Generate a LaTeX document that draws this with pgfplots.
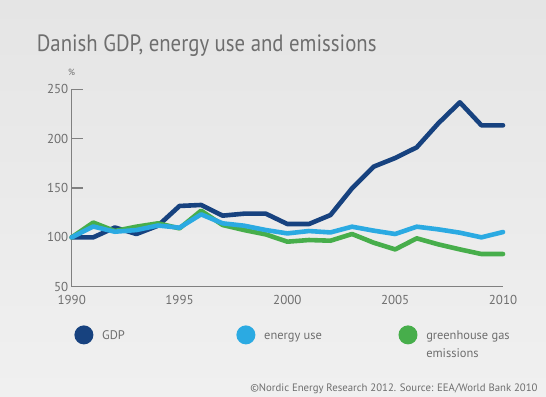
\documentclass[border=0pt]{standalone}
\usepackage{pgfplots}
\pgfplotsset{compat=1.18}
\usepackage{fontspec}
\setmainfont{PT Sans}
\newfontfamily\titlefont[FakeStretch=0.88]{PT Sans}
\definecolor{gdp}{HTML}{17427F}
\definecolor{energy}{HTML}{2BAAE2}
\definecolor{ghg}{HTML}{47AE4B}
\definecolor{txt}{HTML}{6E6E6E}
\definecolor{axc}{HTML}{808080}
\definecolor{bgtop}{HTML}{E5E5E5}
\definecolor{bgbot}{HTML}{F0F0F0}
\pgfplotstableread{
year gdp energy ghg
1990 100 100 100
1991 100 111 115
1992 110 105.7 106.4
1993 103.4 107.4 110.8
1994 111.8 112 114.2
1995 131.8 109.8 109.1
1996 132.8 123.3 127
1997 122 114.2 112.5
1998 124 111.8 107.4
1999 124 107.4 103
2000 113.5 104 95.6
2001 113.5 106.4 97.3
2002 122.6 105 96.6
2003 149.7 110.8 103.4
2004 171.6 106.8 94.6
2005 180.4 103.4 87.8
2006 191.2 110.8 99
2007 215.5 108.1 92.9
2008 236.8 104.7 87.8
2009 213.5 100 83.1
2010 213.5 105.4 83.1
}\data
\begin{document}
\begin{tikzpicture}[x=1bp,y=1bp]
\shade[top color=bgtop, bottom color=bgbot] (0,0) rectangle (546,396);
\node[anchor=base west, inner sep=0pt, text=txt, font=\titlefont\fontsize{23.7}{24}\selectfont] at (36.7,344.3) {Danish GDP, energy use and emissions};
\node[text=txt, inner sep=0pt, font=\fontsize{9}{9}\selectfont] at (71.7,323.3) {\%};
\node[anchor=base east, inner sep=0pt, text=txt, font=\fontsize{10.8}{11}\selectfont] at (537.7,4.3) {\textcopyright Nordic Energy Research 2012. Source: EEA/World Bank 2010};
\begin{axis}[
  at={(71.7bp,109.3bp)}, anchor=south west, scale only axis,
  width=431.3bp, height=197.4bp,
  xmin=1990, xmax=2010, ymin=50, ymax=250,
  axis lines*=left,
  axis line style={axc, line width=1.1bp},
  xtick={1990,1995,...,2010}, ytick={50,100,...,250},
  x tick style={draw=none},
  y tick style={axc, line width=1.1bp},
  tick align=inside, major tick length=11bp,
  /pgf/number format/assume math mode=true,
  /pgf/number format/1000 sep={},
  tick label style={text=txt, font=\fontsize{13}{13}\selectfont},
  xticklabel style={yshift=-5bp},
  clip=false,
  legend columns=3,
  legend style={draw=none, fill=none, at={(0,0)}, anchor=north west, xshift=-0.5bp, yshift=-36.5bp,
    nodes={inner sep=0pt, text=txt, font=\fontsize{12.5}{15}\selectfont, anchor=base west},
    /tikz/every odd column/.style={column sep=8.8bp}},
  legend image code/.code={\path[draw=none, fill] (9.5bp,4.8bp) circle[radius=9.5bp];},
  every axis plot/.append style={line width=4.6bp, line join=round, line cap=round},
]
\addplot[gdp, forget plot] table[x=year,y=gdp] {\data};
\addplot[ghg, forget plot] table[x=year,y=ghg] {\data};
\addplot[energy, forget plot] table[x=year,y=energy] {\data};
\addlegendimage{gdp, fill=gdp}
\addlegendentry{\makebox[134.2bp][l]{GDP}}
\addlegendimage{energy, fill=energy}
\addlegendentry{\makebox[134.3bp][l]{energy use}}
\addlegendimage{ghg, fill=ghg}
\addlegendentry{\begin{tabular}[t]{@{}l@{}}greenhouse gas\\[2.5bp]emissions\end{tabular}}
\end{axis}
\end{tikzpicture}
\end{document}
